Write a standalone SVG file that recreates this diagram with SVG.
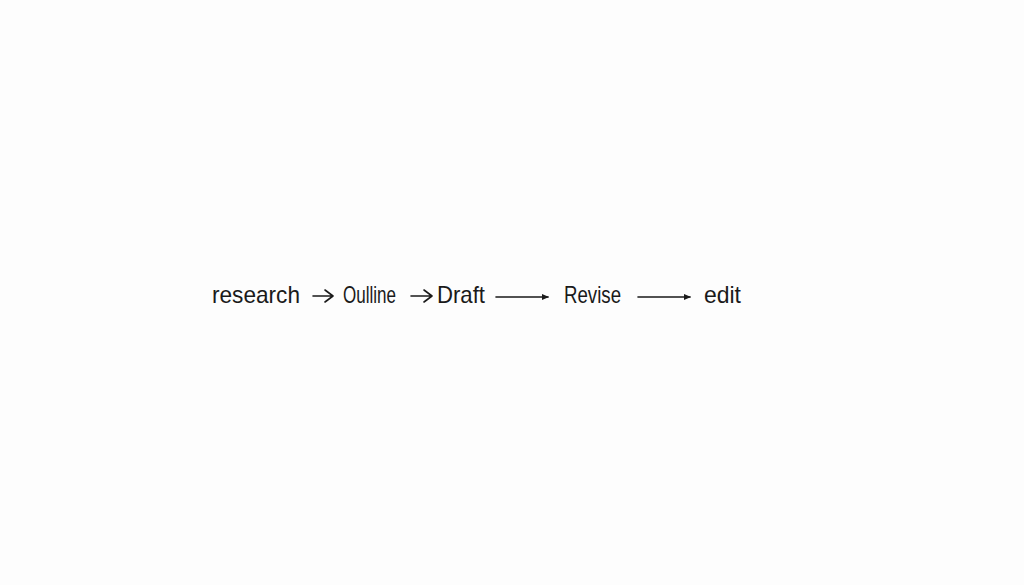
<svg xmlns="http://www.w3.org/2000/svg" width="1024" height="585" viewBox="0 0 1024 585">
<style>
.t{font-family:"Liberation Sans","DejaVu Sans",sans-serif;font-size:24px;fill:#1a1a1a}
.c{fill:none;stroke:#1a1a1a;stroke-width:1.6;stroke-linecap:round;stroke-linejoin:round}
</style>
<defs>
<marker id="ah" markerWidth="8" markerHeight="8" refX="6" refY="4" orient="auto" markerUnits="userSpaceOnUse">
<path d="M0,1 L7,4 L0,7 Z" fill="#1a1a1a"/>
</marker>
</defs>
<rect width="1024" height="585" fill="#fdfdfd"/>
<g id="node-research"><text class="t" x="212" y="303" textLength="88" lengthAdjust="spacingAndGlyphs">research</text></g>
<g id="node-outline"><text class="t" x="343" y="303" textLength="53" lengthAdjust="spacingAndGlyphs">Oulline</text></g>
<g id="node-draft"><text class="t" x="437" y="303" textLength="48" lengthAdjust="spacingAndGlyphs">Draft</text></g>
<g id="node-revise"><text class="t" x="564" y="303" textLength="57" lengthAdjust="spacingAndGlyphs">Revise</text></g>
<g id="node-edit"><text class="t" x="704" y="303" textLength="37" lengthAdjust="spacingAndGlyphs">edit</text></g>
<g id="connectors">
<path class="c" d="M313,296 L332,296 M325,290 L333,296 L325,302"/>
<path class="c" d="M411,296 L431,296 M424,290 L432,296 L424,302"/>
<path class="c" d="M496,297 L548,297" marker-end="url(#ah)"/>
<path class="c" d="M638,297 L690,297" marker-end="url(#ah)"/>
</g>
</svg>
